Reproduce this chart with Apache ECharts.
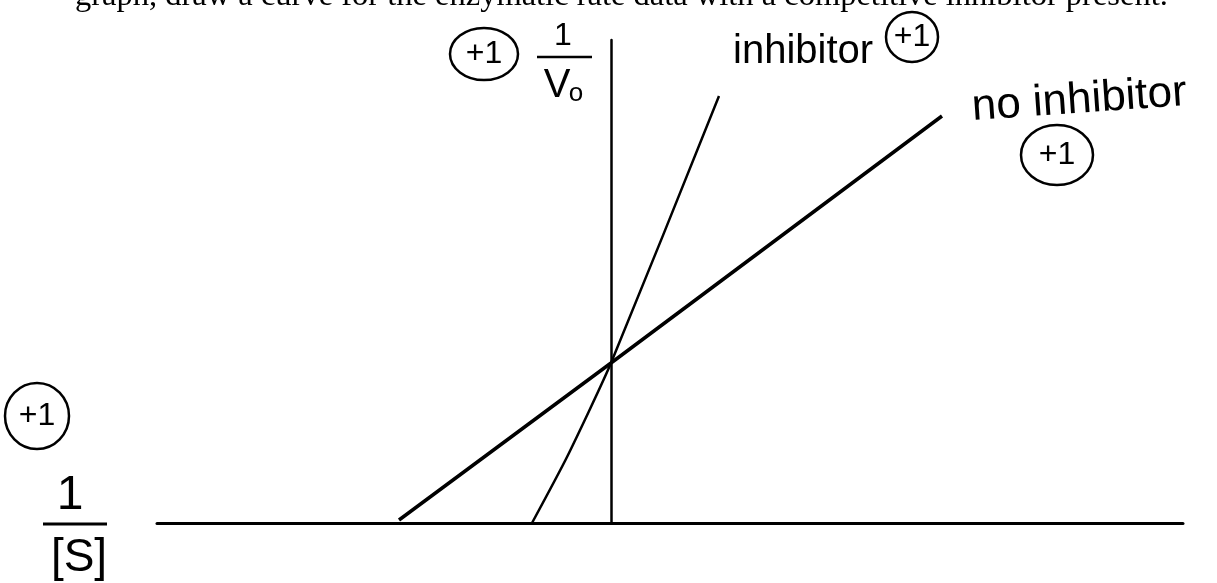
<!DOCTYPE html>
<html>
<head>
<meta charset="utf-8">
<script src="https://cdn.jsdelivr.net/npm/echarts@6/dist/echarts.min.js"></script>
<style>
	html, body { margin: 0; padding: 0; background: #fff; }
	#main { width: 1217px; height: 583px; }
</style>
</head>
<body>
<div id="main"></div>
<script>
// 1/[S] on x, 1/V0 on y (arbitrary units, origin where the axes cross)
var xRange = [-4.54, 5.72];
var yRange = [0, 4.83];
var noInhibitor = [[-2.12, 0.03], [0, 1.60], [3.31, 4.07]];
var inhibitor = [[-0.79, 0], [-0.44, 0.66], [0, 1.60], [1.08, 4.27]];
var seriesNames = ["no inhibitor", "inhibitor"];
var topText = "graph, draw a curve for the enzymatic rate data with a competitive inhibitor present.";

(function() {
	var myChart = echarts.init(document.getElementById("main"));
	var hand = "Liberation Sans";

	function mark(cx, cy, rx, ry) {
		return [
			{ type: "ellipse", shape: { cx: cx, cy: cy, rx: rx, ry: ry },
				style: { fill: "none", stroke: "#000", lineWidth: 2.5 } },
			{ type: "text", x: cx, y: cy,
				style: { text: "+1", font: "32px " + hand, fill: "#000", align: "center", verticalAlign: "middle" } }
		];
	}

	var graphics = [
		{ type: "text", x: 75, y: -4,
			style: { text: topText, font: "32.5px 'Liberation Serif'", fill: "#000", verticalAlign: "middle" } },
		// 1 / V0
		{ type: "text", x: 563, y: 36,
			style: { text: "1", font: "32px " + hand, fill: "#000", align: "center", verticalAlign: "middle" } },
		{ type: "line", shape: { x1: 537, y1: 57, x2: 592, y2: 57 }, style: { stroke: "#000", lineWidth: 2.5 } },
		{ type: "text", x: 557, y: 86,
			style: { text: "V", font: "40px " + hand, fill: "#000", align: "center", verticalAlign: "middle" } },
		{ type: "text", x: 576, y: 94,
			style: { text: "o", font: "26px " + hand, fill: "#000", align: "center", verticalAlign: "middle" } },
		// 1 / [S]
		{ type: "text", x: 70, y: 496,
			style: { text: "1", font: "48px " + hand, fill: "#000", align: "center", verticalAlign: "middle" } },
		{ type: "line", shape: { x1: 43, y1: 524, x2: 107, y2: 524 }, style: { stroke: "#000", lineWidth: 3 } },
		{ type: "text", x: 79, y: 558,
			style: { text: "[S]", font: "46px " + hand, fill: "#000", align: "center", verticalAlign: "middle" } },
		// line labels
		{ type: "text", x: 733, y: 52,
			style: { text: seriesNames[1], font: "40px " + hand, fill: "#000", verticalAlign: "middle" } },
		{ type: "text", x: 972, y: 108, rotation: 0.07,
			style: { text: seriesNames[0], font: "44px " + hand, fill: "#000", verticalAlign: "middle" } }
	]
		.concat(mark(484, 54, 34, 26))
		.concat(mark(912, 37, 26, 25))
		.concat(mark(1057, 155, 36, 30))
		.concat(mark(37, 416, 32, 33));

	var option = {
		animation: false,
		backgroundColor: "#fff",
		grid: { left: 157, right: 34, top: 40, bottom: 60 },
		xAxis: {
			type: "value", min: xRange[0], max: xRange[1],
			axisLine: { onZero: false, lineStyle: { color: "#000", width: 3 } },
			axisTick: { show: false }, axisLabel: { show: false }, splitLine: { show: false }
		},
		yAxis: {
			type: "value", min: yRange[0], max: yRange[1],
			axisLine: { show: true, onZero: true, lineStyle: { color: "#000", width: 2.5 } },
			axisTick: { show: false }, axisLabel: { show: false }, splitLine: { show: false }
		},
		series: [
			{ name: seriesNames[0], type: "line", data: noInhibitor, symbol: "none",
				lineStyle: { color: "#000", width: 3.5 } },
			{ name: seriesNames[1], type: "line", data: inhibitor, symbol: "none", smooth: 0.2,
				lineStyle: { color: "#000", width: 2.5 } }
		],
		graphic: { elements: graphics }
	};

	myChart.setOption(option);

	window.addEventListener("resize", function() {
		myChart.resize();
	});
})();
</script>
</body>
</html>
